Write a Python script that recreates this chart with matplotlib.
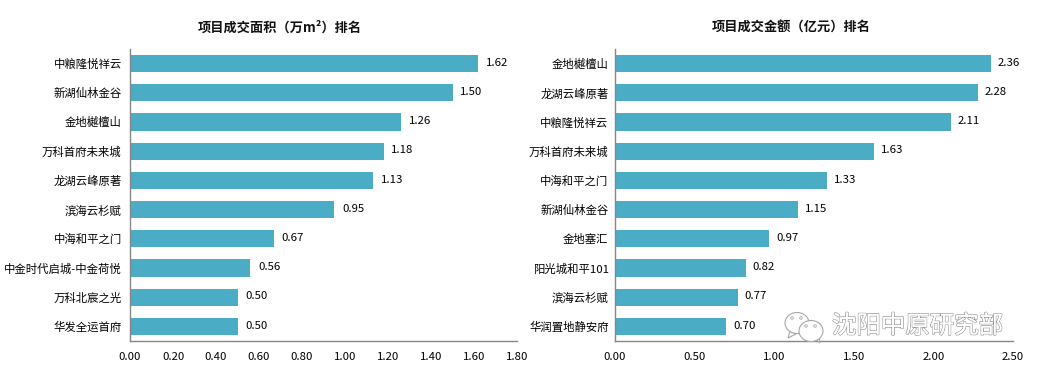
import matplotlib
matplotlib.use("Agg")
import matplotlib.pyplot as plt
import matplotlib.patheffects as pe
from matplotlib.patches import Ellipse, Circle, Polygon

plt.rcParams["font.family"] = ["Noto Sans CJK SC", "DejaVu Sans"]

area_names = ["中粮隆悦祥云", "新湖仙林金谷", "金地樾檀山", "万科首府未来城", "龙湖云峰原著",
              "滨海云杉赋", "中海和平之门", "中金时代启城-中金荷悦", "万科北宸之光", "华发全运首府"]
area_vals = [1.62, 1.50, 1.26, 1.18, 1.13, 0.95, 0.67, 0.56, 0.50, 0.50]
area_ticks = [0.0, 0.2, 0.4, 0.6, 0.8, 1.0, 1.2, 1.4, 1.6, 1.8]

money_names = ["金地樾檀山", "龙湖云峰原著", "中粮隆悦祥云", "万科首府未来城", "中海和平之门",
               "新湖仙林金谷", "金地塞汇", "阳光城和平101", "滨海云杉赋", "华润置地静安府"]
money_vals = [2.36, 2.28, 2.11, 1.63, 1.33, 1.15, 0.97, 0.82, 0.77, 0.70]
money_ticks = [0.0, 0.5, 1.0, 1.5, 2.0, 2.5]

W, H = 1039, 372
fig = plt.figure(figsize=(W/100, H/100), dpi=100, facecolor="white")


def panel(x0, x1, names, vals, ticks, title, title_x, name_pad, val_off):
    ax = fig.add_axes([x0/W, 1-341/H, (x1-x0)/W, (341-48.9)/H])
    ax.barh(range(len(vals)), vals, height=0.59, color="#4bacc6")
    ax.set_ylim(len(vals)-0.5, -0.5)
    ax.set_xlim(ticks[0], ticks[-1])
    ax.set_xticks(ticks)
    ax.set_xticklabels([f"{t:.2f}" for t in ticks], fontsize=8.2, color="black")
    ax.set_yticks(range(len(vals)))
    ax.set_yticklabels(names, fontsize=8.2, color="black")
    ax.tick_params(length=0, axis="y", pad=name_pad)
    ax.tick_params(length=0, axis="x", pad=8)
    for s in ["top", "right"]:
        ax.spines[s].set_visible(False)
    for s in ["left", "bottom"]:
        ax.spines[s].set_color("#868686")
        ax.spines[s].set_linewidth(1)
    for i, v in enumerate(vals):
        ax.annotate(f"{v:.2f}", (v, i), xytext=(val_off, 0.6), textcoords="offset points",
                    va="center", ha="left", fontsize=8.2, color="black")
    fig.text(title_x/W, 1-28/H, title, fontsize=9.5, fontweight="bold", ha="center", va="center", color="#111111")
    return ax


panel(130, 517, area_names, area_vals, area_ticks, "项目成交面积（万m²）排名", 279.5, 6, 5.5)
panel(615, 1013, money_names, money_vals, money_ticks, "项目成交金额（亿元）排名", 791, 4.6, 5)

# watermark
overlay = fig.add_axes([0, 0, 1, 1], facecolor="none")
overlay.set_xlim(0, W)
overlay.set_ylim(H, 0)
overlay.axis("off")
gray = "#a8a8a8"
overlay.add_patch(Polygon([(790, 331), (788, 338), (796, 334)], fc="white", ec=gray, lw=0.8))
overlay.add_patch(Ellipse((797, 323), 24, 21, fc="white", ec=gray, lw=0.8))
overlay.add_patch(Polygon([(815, 338), (820, 343), (819, 335)], fc="white", ec=gray, lw=0.8))
overlay.add_patch(Ellipse((811, 331), 24, 21, fc="white", ec=gray, lw=0.8))
for x, y in [(792, 318), (801, 318), (806, 326), (815, 326)]:
    overlay.add_patch(Circle((x, y), 1.3, fc="white", ec=gray, lw=0.6))
fig.text(832/W, 1-326/H, "沈阳中原研究部", fontsize=17.6, color="white", ha="left", va="center",
         path_effects=[pe.withStroke(linewidth=1.0, foreground="#909090"), pe.Normal()])

fig.savefig("out.png", dpi=100)
